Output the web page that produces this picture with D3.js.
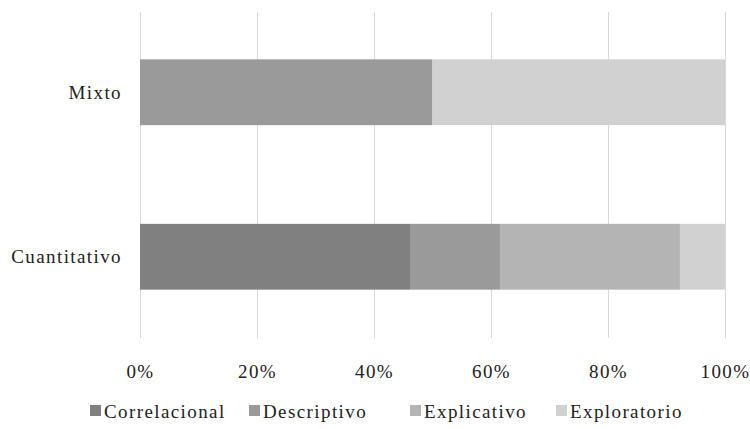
<!DOCTYPE html>
<html>
<head>
<meta charset="utf-8">
<script src="https://cdn.jsdelivr.net/npm/d3@7"></script>
<style>
  html, body { margin: 0; padding: 0; background: #fff; }
  svg { display: block; }
  text { font-family: "Liberation Serif", "DejaVu Serif", serif; font-size: 19px; letter-spacing: 1.4px; fill: #222; }
</style>
</head>
<body>
<svg id="chart" width="750" height="429"></svg>
<script>
// Research design categories and the share of each study type (%)
const categories = ["Mixto", "Cuantitativo"];
const seriesNames = ["Correlacional", "Descriptivo", "Explicativo", "Exploratorio"];
const correlacional = [0, 46.15];
const descriptivo = [50, 15.38];
const explicativo = [0, 30.77];
const exploratorio = [50, 7.69];
const tickLabels = ["0%", "20%", "40%", "60%", "80%", "100%"];
const colors = ["#808080", "#9a9a9a", "#b4b4b4", "#d1d1d1"];

const seriesValues = [correlacional, descriptivo, explicativo, exploratorio];
const rows = categories.map((c, i) => {
  const r = { category: c };
  seriesNames.forEach((s, j) => { r[s] = seriesValues[j][i]; });
  return r;
});

const svg = d3.select("#chart");
const margin = { left: 140, right: 25, top: 10, bottom: 90 };
const W = 750, H = 429;

const x = d3.scaleLinear().domain([0, 100]).range([margin.left, W - margin.right]);
const y = d3.scaleBand().domain(categories).range([margin.top, H - margin.bottom]).paddingInner(0.6).paddingOuter(0.3);

// Vertical gridlines
svg.append("g")
  .selectAll("line")
  .data(d3.range(0, 101, 20))
  .join("line")
  .attr("x1", d => x(d) + 0.5).attr("x2", d => x(d) + 0.5)
  .attr("y1", 12).attr("y2", 338)
  .attr("stroke", "#d9d9d9").attr("stroke-width", 1);

// Stacked bars
const stack = d3.stack().keys(seriesNames)(rows);
svg.append("g")
  .selectAll("g")
  .data(stack)
  .join("g")
  .attr("fill", (d, i) => colors[i])
  .selectAll("rect")
  .data(d => d)
  .join("rect")
  .attr("x", d => x(d[0]))
  .attr("width", d => x(d[1]) - x(d[0]))
  .attr("y", d => y(d.data.category))
  .attr("height", y.bandwidth());

// Category labels
svg.append("g")
  .selectAll("text")
  .data(categories)
  .join("text")
  .attr("x", margin.left - 18)
  .attr("y", d => y(d) + y.bandwidth() / 2)
  .attr("dy", "0.35em")
  .attr("text-anchor", "end")
  .text(d => d);

// Percentage axis labels
const xAxis = d3.axisBottom(x)
  .tickValues(d3.range(0, 101, 20))
  .tickFormat((d, i) => tickLabels[i])
  .tickSize(0)
  .tickPadding(0);
const ax = svg.append("g").attr("transform", "translate(0,364)").call(xAxis)
  .attr("font-family", null).attr("font-size", null);
ax.select(".domain").remove();
ax.selectAll("text").attr("fill", null);

// Legend
const legend = svg.append("g").attr("transform", "translate(0,411)");
const startX = [90, 249, 410, 556];
seriesNames.forEach((s, i) => {
  const g = legend.append("g").attr("transform", `translate(${startX[i]},0)`);
  g.append("rect").attr("x", 0).attr("y", -6).attr("width", 11).attr("height", 11).attr("fill", colors[i]);
  g.append("text").attr("x", 14).attr("y", 0).attr("dy", "0.35em").text(s);
});
</script>
</body>
</html>
